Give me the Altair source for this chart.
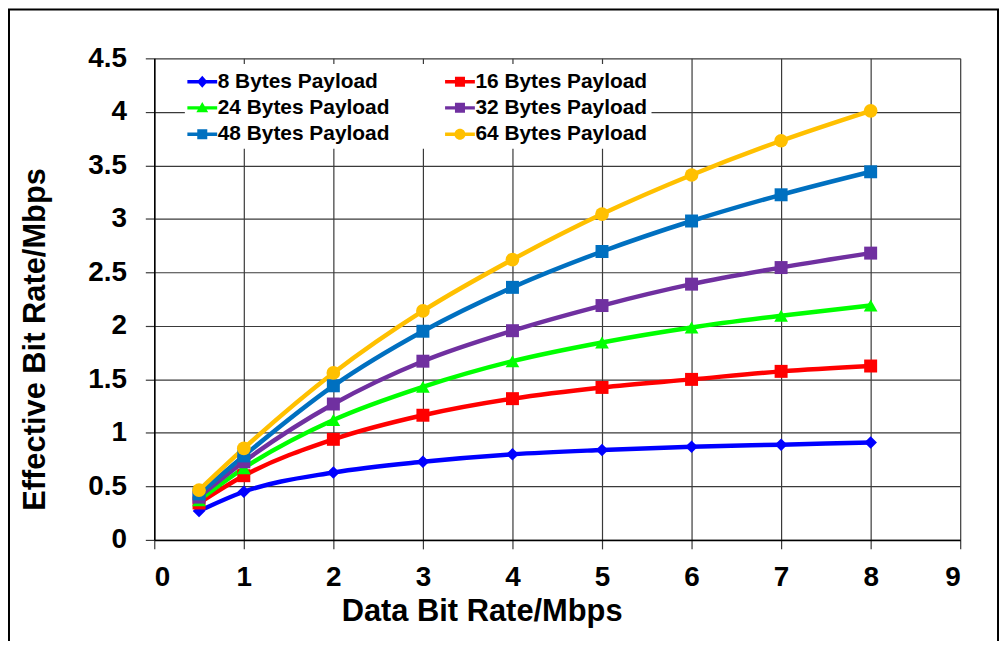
import altair as alt
import pandas as pd

x_rates = [0.5, 1, 2, 3, 4, 5, 6, 7, 8]
series_names = ["8 Bytes Payload", "16 Bytes Payload", "24 Bytes Payload",
                "32 Bytes Payload", "48 Bytes Payload", "64 Bytes Payload"]
y8 = [0.27, 0.45, 0.63, 0.73, 0.80, 0.84, 0.87, 0.89, 0.91]
y16 = [0.345, 0.60, 0.94, 1.165, 1.32, 1.425, 1.50, 1.575, 1.625]
y24 = [0.37, 0.67, 1.12, 1.43, 1.67, 1.845, 1.985, 2.095, 2.19]
y32 = [0.40, 0.73, 1.27, 1.67, 1.955, 2.19, 2.39, 2.545, 2.68]
y48 = [0.43, 0.785, 1.44, 1.95, 2.36, 2.695, 2.98, 3.225, 3.44]
y64 = [0.465, 0.855, 1.56, 2.14, 2.62, 3.045, 3.41, 3.73, 4.01]
all_y = [y8, y16, y24, y32, y48, y64]
colors = ["#0000FF", "#FF0000", "#00FF00", "#7030A0", "#0070C0", "#FFC000"]
shapes = ["diamond", "square", "triangle-up", "square", "square", "circle"]
sizes = [160, 170, 190, 170, 170, 190]

x_ticks = [0, 1, 2, 3, 4, 5, 6, 7, 8, 9]
y_ticks = [0, 0.5, 1, 1.5, 2, 2.5, 3, 3.5, 4, 4.5]

rows = []
for name, ys in zip(series_names, all_y):
    for xv, yv in zip(x_rates, ys):
        rows.append({"series": name, "x": xv, "y": yv})
df = pd.DataFrame(rows)

FONT = "Liberation Sans"
line_bar = "M-1.13,-0.13H1.13V0.13H-1.13Z "
legend_paths = [
    line_bar + "M0,-0.45L0.4,0L0,0.45L-0.4,0Z",
    line_bar + "M-0.38,-0.38H0.38V0.38H-0.38Z",
    line_bar + "M0,-0.45L0.45,0.34H-0.45Z",
    line_bar + "M-0.38,-0.38H0.38V0.38H-0.38Z",
    line_bar + "M-0.38,-0.38H0.38V0.38H-0.38Z",
    line_bar + "M-0.42,0A0.42,0.42 0 1,1 0.42,0A0.42,0.42 0 1,1 -0.42,0Z",
]

xenc = alt.X("x:Q", scale=alt.Scale(domain=[0, 9], nice=False),
             axis=alt.Axis(values=x_ticks, title="Data Bit Rate/Mbps",
                           format="~g", labelPadding=15,
                           titleX=329, titleY=81, titleBaseline="alphabetic",
                           titleAlign="center"))
yenc = alt.Y("y:Q", scale=alt.Scale(domain=[0, 4.5], nice=False),
             axis=alt.Axis(values=y_ticks, title="Effective Bit Rate/Mbps",
                           format="~g", labelPadding=19,
                           titleX=-110, titleY=282, titleBaseline="alphabetic",
                           titleAlign="center"))

base = alt.Chart(df)

line_layers = []
point_layers = []
for name, col, shp, sz in zip(series_names, colors, shapes, sizes):
    sub = base.transform_filter(alt.datum.series == name)
    line_layers.append(
        sub.mark_line(interpolate="monotone", strokeWidth=4.5, color=col)
        .encode(x=xenc, y=yenc)
    )
    point_layers.append(
        sub.mark_point(filled=True, shape=shp, size=sz, opacity=1,
                       strokeWidth=0, color=col)
        .encode(x="x:Q", y="y:Q")
    )

# legend-only layer: no marks drawn (filtered out), legend built from explicit domains
legend_layer = base.transform_filter("datum.x < 0").mark_point(
    filled=True, opacity=1, strokeWidth=0
).encode(
    x="x:Q", y="y:Q",
    color=alt.Color("series:N", scale=alt.Scale(domain=series_names, range=colors),
                    legend=alt.Legend(title=None, orient="none", legendX=30.75, legendY=5.75,
                                      direction="horizontal",
                                      columns=2, columnPadding=55, rowPadding=2.5,
                                      symbolSize=702, symbolStrokeWidth=0, symbolOpacity=1,
                                      labelFont=FONT, labelFontSize=21, labelFontWeight="bold",
                                      labelColor="black", labelOffset=2, labelLimit=400,
                                      fillColor="white", padding=4)),
    shape=alt.Shape("series:N", scale=alt.Scale(domain=series_names, range=legend_paths)),
)

frame = alt.Chart(alt.Data(values=[{"a": 1}])).mark_rect(
    fillOpacity=0, stroke="black", strokeWidth=2
).encode(x=alt.value(-146), x2=alt.value(848), y=alt.value(-49), y2=alt.value(700))

chart = alt.layer(*line_layers, *point_layers, legend_layer, frame).properties(
    width=810, height=484,
    padding={"left": 147, "top": 49, "right": 40, "bottom": 100},
    autosize="none",
    background="white",
).configure_view(stroke=None).configure_axis(
    labelFont=FONT, labelFontSize=28, labelFontWeight="bold", labelColor="black",
    titleFont=FONT, titleFontSize=31, titleFontWeight="bold", titleColor="black",
    grid=True, gridColor="#3a3a3a", gridWidth=1.2, gridOpacity=1,
    domainColor="black", domainWidth=1.5,
    tickColor="#3a3a3a", tickSize=9, tickWidth=1.2,
)

chart.save("out.html", embed_options={"renderer": "svg", "actions": False})
